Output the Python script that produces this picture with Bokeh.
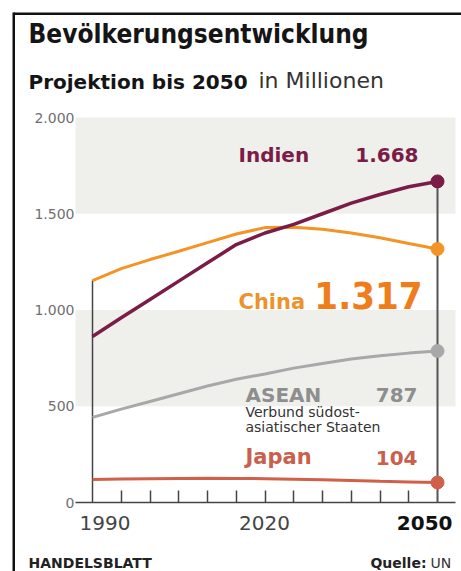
from bokeh.plotting import figure
from bokeh.models import Range1d, FixedTicker, BoxAnnotation, Label, ColumnDataSource, LinearAxis
from bokeh.embed import file_html
from bokeh.resources import INLINE

# ---------------- data ----------------
years = [1990, 1995, 2000, 2005, 2010, 2015, 2020, 2025, 2030, 2035, 2040, 2045, 2050]
india = [862, 960, 1055, 1150, 1245, 1340, 1400, 1445, 1500, 1555, 1600, 1640, 1668]
china = [1153, 1215, 1262, 1305, 1350, 1395, 1428, 1430, 1420, 1400, 1375, 1345, 1317]
asean = [442, 485, 525, 565, 605, 640, 668, 698, 722, 745, 762, 776, 787]
japan = [120, 122, 124, 125, 126, 125, 124, 121, 118, 114, 110, 107, 104]
y_ticks = [0, 500, 1000, 1500, 2000]
y_tick_labels = ["0", "500", "1.000", "1.500", "2.000"]
x_minor_ticks = [1995, 2000, 2005, 2010, 2015, 2020, 2025, 2030, 2035, 2040, 2045]
x_tick_labels = ["1990", "2020", "2050"]
bands = [(500, 1000), (1500, 2000)]

C_IND = "#7a1c46"
C_CHN = "#f29426"
C_ASE = "#a8a8a8"
C_JAP = "#d0604a"


def fmt(v):
    return f"{v:,}".replace(",", ".")


# pixel geometry: x = 1990 at px 92, 5.75 px/year; y = 0 at px 502, 0.1925 px/unit
PX_X0, PX_PER_YEAR = 92, 5.75
PX_Y0, PX_PER_UNIT = 502, 0.1925
W, H = 461, 571
x_start = 1990 - PX_X0 / PX_PER_YEAR
x_end = 1990 + (W - PX_X0) / PX_PER_YEAR
y_start = -(H - PX_Y0) / PX_PER_UNIT
y_end = PX_Y0 / PX_PER_UNIT
plot_left = 1990 - (PX_X0 - 75) / PX_PER_YEAR
plot_right = 1990 + (455 - PX_X0) / PX_PER_YEAR

p = figure(width=W, height=H, output_backend="svg", toolbar_location=None,
           x_range=Range1d(x_start, x_end), y_range=Range1d(y_start, y_end),
           x_axis_location=None, y_axis_location=None, title=None,
           min_border=0)
p.outline_line_color = None
p.grid.visible = False
p.background_fill_color = "white"
p.border_fill_color = "white"

for lo, hi in bands:
    p.add_layout(BoxAnnotation(bottom=lo, top=hi, left=plot_left, right=plot_right,
                               fill_color="#efefec", fill_alpha=1,
                               line_color=None, level="underlay"))

# y axis (no line, labels only)
yax = LinearAxis(fixed_location=plot_left, ticker=FixedTicker(ticks=y_ticks),
                 major_label_overrides={t: l for t, l in zip(y_ticks, y_tick_labels)},
                 axis_line_color=None, major_tick_line_color=None, minor_tick_line_color=None,
                 major_tick_in=0, major_tick_out=0, minor_tick_in=0, minor_tick_out=0,
                 major_label_standoff=1, major_label_text_font="DejaVu Sans",
                 major_label_text_font_size="14px", major_label_text_color="#707070")
p.add_layout(yax, "left")

# x axis (inward ticks every 5 years)
xax = LinearAxis(fixed_location=0, ticker=FixedTicker(ticks=[], minor_ticks=x_minor_ticks),
                 axis_line_color=None,
                 minor_tick_in=12, minor_tick_out=0, minor_tick_line_color="#444444",
                 minor_tick_line_width=1.5, major_tick_line_color=None)
p.add_layout(xax, "below")
# x axis baseline across the plot width
p.segment(x0=[plot_left], y0=[0], x1=[plot_right], y1=[0], line_color="#444444", line_width=1.5)

# vertical guide lines
p.segment(x0=[years[0]], y0=[0], x1=[years[0]], y1=[china[0]], line_color="#444444", line_width=1.5)
p.segment(x0=[years[-1]], y0=[0], x1=[years[-1]], y1=[india[-1]], line_color="#555555", line_width=2)

# series
p.line(years, japan, line_color=C_JAP, line_width=3)
p.line(years, asean, line_color=C_ASE, line_width=3)
p.line(years, china, line_color=C_CHN, line_width=3)
p.line(years, india, line_color=C_IND, line_width=3.5)

end_src = ColumnDataSource(dict(x=[years[-1]] * 4,
                                y=[india[-1], china[-1], asean[-1], japan[-1]],
                                c=[C_IND, C_CHN, C_ASE, C_JAP]))
p.scatter("x", "y", source=end_src, size=13, fill_color="c", line_color="c")


def lab(text, x, y, size, color, font="DejaVu Sans", style="normal", align="left"):
    # y is the wanted baseline in canvas px; correct for label baseline placement
    p.add_layout(Label(x=x, y=y - 0.4 * size, x_units="canvas", y_units="canvas", text=text,
                       text_font=font, text_font_size=f"{size}px", text_font_style=style,
                       text_color=color, text_align=align, text_baseline="alphabetic"))


# frame border (top and left)
p.add_layout(BoxAnnotation(left=13, right=461, top=12, bottom=14.5, left_units="canvas",
                           right_units="canvas", top_units="canvas", bottom_units="canvas",
                           fill_color="#111111", fill_alpha=1, line_color=None))
p.add_layout(BoxAnnotation(left=12, right=14.5, top=12, bottom=571, left_units="canvas",
                           right_units="canvas", top_units="canvas", bottom_units="canvas",
                           fill_color="#111111", fill_alpha=1, line_color=None))

# titles
lab("Bevölkerungsentwicklung", 28, 44, 26, "#151515", font="DejaVu Sans Condensed", style="bold")
lab("Projektion bis 2050", 28, 89, 20, "#151515", style="bold")
lab("in Millionen", 258, 89, 22, "#333333")

# series labels
lab("Indien", 238, 162, 20, C_IND, style="bold")
lab(fmt(india[-1]), 418, 162, 20, C_IND, style="bold", align="right")
lab("China", 238, 310, 21, "#ec932e", style="bold")
lab(fmt(china[-1]), 422, 310, 38, "#f07d1c", font="DejaVu Sans Condensed", style="bold", align="right")
lab("ASEAN", 245, 402, 20, "#8e8e8e", style="bold")
lab(fmt(asean[-1]), 417, 402, 20, "#8e8e8e", style="bold", align="right")
lab("Verbund südost-", 245, 417, 14, "#333333")
lab("asiatischer Staaten", 245, 432, 14, "#333333")
lab("Japan", 245, 465, 21, "#c9604c", style="bold")
lab(fmt(japan[-1]), 417, 465, 20, "#c9604c", style="bold", align="right")

# x tick labels
lab(x_tick_labels[0], 79, 530, 20, "#444444")
lab(x_tick_labels[1], 264, 530, 20, "#444444", align="center")
lab(x_tick_labels[2], 452, 530, 20, "#111111", style="bold", align="right")

# footer
lab("HANDELSBLATT", 28, 568, 14, "#222222", style="bold")
lab("Quelle:", 426, 568, 14, "#222222", style="bold", align="right")
lab("UN", 430, 568, 14, "#333333")

open("out.html", "w").write(file_html(p, INLINE))
